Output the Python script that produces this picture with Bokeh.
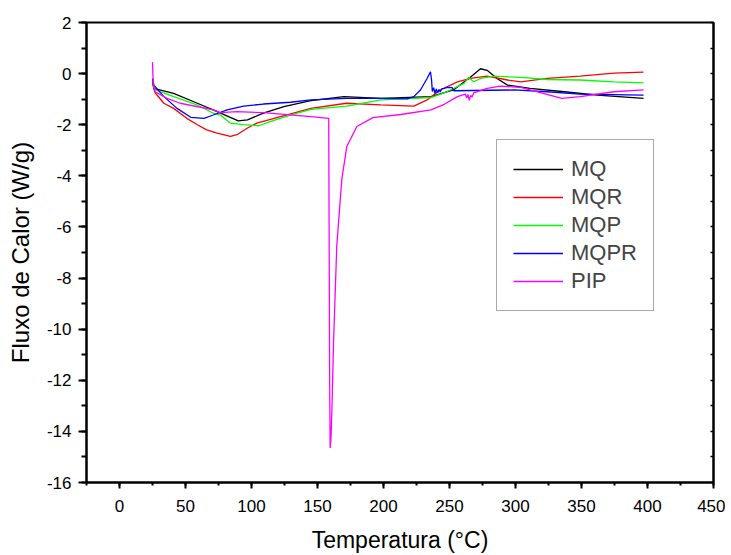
from bokeh.plotting import figure
from bokeh.models import Range1d, LinearAxis, FixedTicker, Legend, LegendItem
from bokeh.embed import file_html
from bokeh.resources import INLINE

# ---- data ----
mq_x = [25, 25.5, 26, 41, 59, 74, 90, 97, 109, 124.5, 145, 170, 198, 236, 253, 266, 273.5, 278.5, 286, 294, 311, 337, 362, 397]
mq_y = [-0.35, -0.45, -0.58, -0.77, -1.16, -1.49, -1.85, -1.81, -1.55, -1.29, -1.06, -0.90, -0.97, -0.90, -0.64, -0.13, 0.19, 0.13, -0.19, -0.45, -0.58, -0.71, -0.84, -0.97]

mqr_x = [25, 26, 27.3, 33.6, 41, 51, 59, 66, 74, 84, 89, 97, 104, 122, 145, 172, 198, 223, 233, 243, 256, 266, 278.5, 294, 304, 324, 349, 374.5, 397]
mqr_y = [-0.3, -0.6, -0.77, -1.16, -1.36, -1.75, -2.00, -2.20, -2.33, -2.46, -2.39, -2.13, -1.94, -1.68, -1.36, -1.16, -1.22, -1.27, -1.03, -0.64, -0.32, -0.19, -0.10, -0.25, -0.32, -0.19, -0.10, 0.02, 0.06]

mqp_x = [25, 26, 27.3, 41, 59, 71, 76.5, 84, 94, 105.6, 114, 129.5, 145, 172, 198, 236, 248, 261, 264.6, 268.4, 273.5, 283.6, 304, 324, 349, 374.5, 397]
mqp_y = [-0.2, -0.5, -0.64, -0.90, -1.23, -1.55, -1.62, -1.94, -2.00, -2.04, -1.88, -1.62, -1.40, -1.27, -1.03, -0.94, -0.71, -0.38, -0.15, -0.32, -0.19, -0.10, -0.15, -0.23, -0.25, -0.32, -0.36]

mqpr_x = [25, 26, 33.6, 43.6, 54, 64, 71, 81.5, 94, 109, 129.5, 145, 172, 198, 218, 223, 228, 233, 235.6, 236.4, 237, 238, 239, 240, 241, 242, 243, 244, 246, 248, 252, 253.3, 299, 324, 349, 397]
mqpr_y = [-0.2, -0.45, -0.90, -1.36, -1.71, -1.75, -1.62, -1.42, -1.27, -1.19, -1.12, -1.03, -0.97, -0.97, -0.99, -0.90, -0.64, -0.19, 0.07, -0.25, -0.70, -0.55, -0.78, -0.60, -0.75, -0.62, -0.72, -0.60, -0.58, -0.54, -0.55, -0.67, -0.64, -0.71, -0.80, -0.84]

pip_x = [25, 25.5, 27, 36, 46, 71, 76.5, 89, 109, 145, 158.5, 158.8, 159.2, 159.6, 160.2, 161, 162.1, 164.6, 168.4, 172.2, 179.8, 192, 213, 236, 246, 256, 262, 263, 264, 265, 266, 267, 268.4, 278.5, 288.6, 304, 321, 335, 349, 374.5, 397]
pip_y = [0.45, -0.3, -0.71, -0.97, -1.16, -1.42, -1.53, -1.49, -1.53, -1.68, -1.75, -6.0, -12.0, -14.65, -14.3, -13.0, -10.6, -6.74, -4.14, -2.85, -2.07, -1.72, -1.6, -1.42, -1.2, -0.9, -0.80, -0.95, -0.82, -1.05, -0.85, -0.92, -0.75, -0.58, -0.49, -0.54, -0.77, -0.97, -0.90, -0.71, -0.64]

series_names = ["MQ", "MQR", "MQP", "MQPR", "PIP"]
series_colors = ["#000000", "#ff0000", "#00ff00", "#0000ff", "#ff00ff"]
series_data = [(mq_x, mq_y), (mqr_x, mqr_y), (mqp_x, mqp_y), (mqpr_x, mqpr_y), (pip_x, pip_y)]

x_ticks = list(range(0, 451, 50))
x_minor = list(range(-25, 451, 25))
y_ticks = list(range(-16, 3, 2))
y_minor = list(range(-16, 3, 1))

FONT = "Liberation Sans"

p = figure(width=725, height=555,
           x_range=Range1d(-25, 450), y_range=Range1d(-16, 2),
           output_backend="svg", toolbar_location=None,
           min_border_left=86, min_border_top=22, min_border_right=12, min_border_bottom=70,
           x_axis_label="Temperatura (°C)", y_axis_label="Fluxo de Calor (W/g)")

p.grid.visible = False
p.outline_line_color = "black"
p.outline_line_width = 2
p.outline_line_alpha = 1
p.background_fill_color = "white"
p.border_fill_color = "white"

def style_axis(ax, label_size):
    ax.axis_line_color = "black"
    ax.major_tick_line_color = "black"
    ax.minor_tick_line_color = "black"
    ax.axis_line_width = 2
    ax.major_tick_line_width = 2
    ax.minor_tick_line_width = 2
    ax.major_label_text_font = FONT
    ax.major_label_text_font_size = "17px"
    ax.major_label_text_color = "black"
    ax.axis_label_text_font = FONT
    ax.axis_label_text_font_size = label_size
    ax.axis_label_text_font_style = "normal"
    ax.axis_label_text_color = "black"

xa = p.xaxis[0]
style_axis(xa, "23px")
xa.ticker = FixedTicker(ticks=x_ticks, minor_ticks=x_minor)
xa.major_label_overrides = {t: str(t) for t in x_ticks}
xa.major_tick_out = 6
xa.major_tick_in = 0
xa.minor_tick_out = 3
xa.minor_tick_in = 0
xa.major_label_standoff = 11
xa.axis_label_standoff = 12

ya = p.yaxis[0]
style_axis(ya, "24px")
ya.ticker = FixedTicker(ticks=y_ticks, minor_ticks=y_minor)
ya.major_label_overrides = {t: str(t) for t in y_ticks}
ya.major_tick_out = 8
ya.major_tick_in = 0
ya.minor_tick_out = 5
ya.minor_tick_in = 0
ya.major_label_standoff = 7
ya.axis_label_standoff = 10

ra = LinearAxis(ticker=FixedTicker(ticks=y_minor, minor_ticks=[]),
                major_label_overrides={t: "" for t in y_minor},
                axis_line_width=2, axis_line_color="black",
                major_tick_in=3, major_tick_out=0, major_tick_line_color="black",
                major_tick_line_width=1.5, minor_tick_in=0, minor_tick_out=0)
p.add_layout(ra, "right")

items = []
for name, color, (xs, ys) in zip(series_names, series_colors, series_data):
    r = p.line(xs, ys, line_color=color, line_width=1.3)
    items.append(LegendItem(label=name, renderers=[r]))

legend = Legend(items=items, location=(410, 171),
                label_text_font=FONT, label_text_font_size="22px",
                label_height=24, glyph_height=24, glyph_width=50,
                label_standoff=8, spacing=2, padding=16, margin=0,
                border_line_color="#555555", border_line_width=1.5,
                background_fill_color="white", background_fill_alpha=1)
p.add_layout(legend)

open("out.html", "w").write(file_html(p, INLINE))
